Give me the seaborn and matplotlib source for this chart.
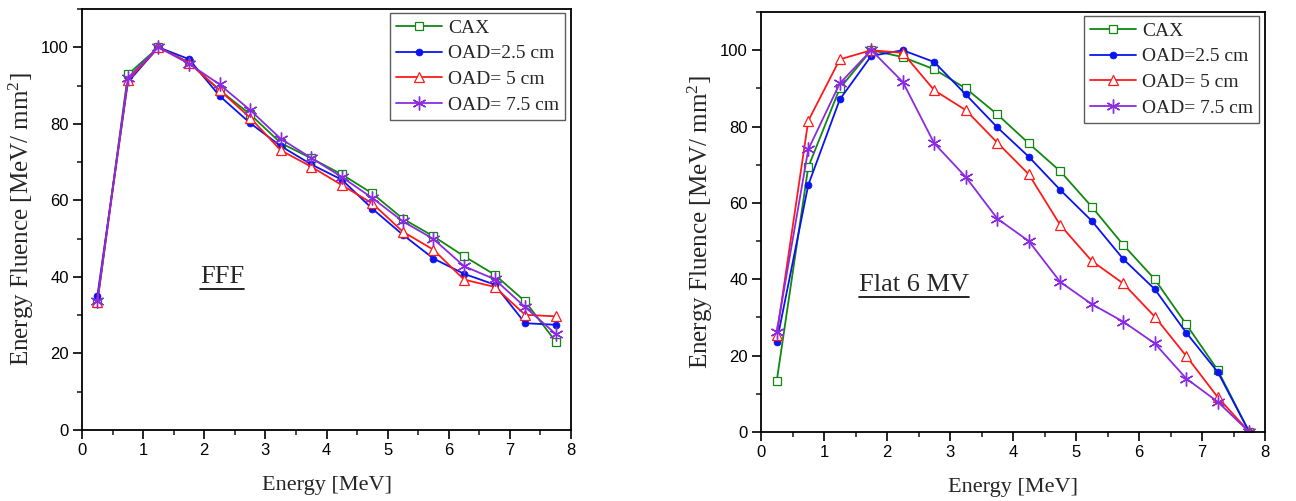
import numpy as np
import pandas as pd
import matplotlib
matplotlib.use("Agg")
import matplotlib.pyplot as plt
import seaborn as sns
from matplotlib.ticker import MultipleLocator
from matplotlib.lines import Line2D

# ---------------- data ----------------
energy = [0.25, 0.75, 1.25, 1.75, 2.25, 2.75, 3.25, 3.75,
          4.25, 4.75, 5.25, 5.75, 6.25, 6.75, 7.25, 7.75]

series_names = ["CAX", "OAD=2.5 cm", "OAD= 5 cm", "OAD= 7.5 cm"]

fff_cax = [33.2, 92.9, 100.0, 96.0, 88.8, 82.5, 75.0, 71.0, 66.8, 61.8, 55.2, 50.6, 45.4, 40.6, 33.6, 23.1]
fff_oad25 = [34.9, 90.9, 100.0, 96.9, 87.3, 80.2, 74.2, 69.4, 65.4, 57.8, 51.0, 44.8, 40.8, 38.0, 27.9, 27.5]
fff_oad5 = [33.5, 91.4, 100.0, 96.0, 88.8, 81.6, 73.1, 68.8, 64.0, 59.2, 51.8, 47.1, 39.3, 37.4, 30.1, 29.7]
fff_oad75 = [33.8, 92.0, 100.0, 95.7, 90.3, 83.6, 76.1, 71.1, 66.1, 60.6, 54.5, 49.9, 42.8, 39.4, 32.1, 25.1]

flat_cax = [13.4, 69.4, 90.0, 100.0, 98.2, 95.0, 90.0, 83.2, 75.6, 68.3, 59.0, 49.0, 40.0, 28.2, 16.2, 0.0]
flat_oad25 = [23.6, 64.7, 87.1, 98.5, 100.0, 96.9, 88.4, 79.8, 72.1, 63.4, 55.3, 45.3, 37.4, 26.0, 15.7, 0.0]
flat_oad5 = [25.5, 81.5, 97.6, 100.0, 99.3, 89.5, 84.3, 75.8, 67.5, 54.2, 44.8, 38.9, 30.2, 19.9, 9.1, 0.0]
flat_oad75 = [26.3, 74.0, 91.3, 100.0, 91.7, 75.6, 66.8, 55.9, 50.0, 39.3, 33.5, 28.9, 23.2, 14.0, 7.9, 0.0]

x_ticks = [0, 1, 2, 3, 4, 5, 6, 7, 8]
y_ticks = [0, 20, 40, 60, 80, 100]

panel_labels = ["FFF", "Flat 6 MV"]
x_label = "Energy [MeV]"
y_label = "Energy Fluence [MeV/ mm$^2$]"

# ---------------- style ----------------
sns.set_style("ticks")
plt.rcParams["font.family"] = ["Liberation Serif", "DejaVu Serif"]
plt.rcParams["mathtext.fontset"] = "custom"
plt.rcParams["mathtext.rm"] = "Liberation Serif"
plt.rcParams["mathtext.it"] = "Liberation Serif:italic"
plt.rcParams["mathtext.bf"] = "Liberation Serif:bold"

colors = ["#118811", "#0a14f0", "#ff1a1a", "#8a2be2"]
styles = [
    dict(marker="s", markersize=6, markerfacecolor="white", markeredgewidth=0.9),
    dict(marker="o", markersize=5, markeredgewidth=0.5),
    dict(marker="^", markersize=7, markerfacecolor="white", markeredgewidth=0.9),
    dict(marker=(6, 2, 0), markersize=10, markeredgewidth=1.0),
]

fig = plt.figure(figsize=(12.96, 5.01), dpi=100)
ax1 = fig.add_axes([0.0633, 0.1417, 0.4406 - 0.0633, 0.982 - 0.1417])
ax2 = fig.add_axes([0.5872, 0.1377, 0.9761 - 0.5872, 0.976 - 0.1377])

panels = [
    (ax1, [fff_cax, fff_oad25, fff_oad5, fff_oad75], panel_labels[0], (1.93, 40)),
    (ax2, [flat_cax, flat_oad25, flat_oad5, flat_oad75], panel_labels[1], (1.55, 38.5)),
]

tick_font = ["Liberation Sans", "DejaVu Sans"]
texts = []

for ax, data, label, pos in panels:
    for name, vals, col, st in zip(series_names, data, colors, styles):
        df = pd.DataFrame({"x": energy, "y": vals})
        sns.lineplot(data=df, x="x", y="y", ax=ax, color=col, linewidth=1.3,
                     markeredgecolor=col, label=name, **st)
    ax.set_xlim(0, 8)
    ax.set_ylim(0, 110)
    ax.set_xticks(x_ticks)
    ax.set_yticks(y_ticks)
    ax.xaxis.set_minor_locator(MultipleLocator(0.5))
    ax.yaxis.set_minor_locator(MultipleLocator(10))
    ax.tick_params(axis="both", which="major", direction="out", length=6.5, width=1.2,
                   labelsize=12, pad=3, colors="black")
    ax.tick_params(axis="both", which="minor", direction="out", length=3.5, width=1.2)
    for lab in ax.get_xticklabels() + ax.get_yticklabels():
        lab.set_family(tick_font)
    for sp in ax.spines.values():
        sp.set_visible(True)
        sp.set_linewidth(1.3)
        sp.set_color("black")
    ax.set_xlabel(x_label, fontsize=16, labelpad=13)
    ax.set_ylabel(y_label, fontsize=18, labelpad=4)
    t = ax.text(pos[0], pos[1], label, fontsize=19, ha="left", va="center")
    texts.append(t)
    leg = ax.legend(loc="upper right", bbox_to_anchor=(0.988, 0.99), fontsize=14,
                    frameon=True, fancybox=False, edgecolor="#333333",
                    handlelength=2.4, handletextpad=0.3, borderpad=0.3,
                    labelspacing=0.42, borderaxespad=0.0)
    leg.get_frame().set_linewidth(1.0)

# underline the panel labels
fig.canvas.draw()
renderer = fig.canvas.get_renderer()
for t in texts:
    bb = t.get_window_extent(renderer)
    (x0, y0), (x1, _) = fig.transFigure.inverted().transform([[bb.x0, bb.y0], [bb.x1, bb.y1]])
    fig.add_artist(Line2D([x0, x1], [y0 - 0.002, y0 - 0.002], color="black", lw=1.2,
                          transform=fig.transFigure))

fig.savefig("out.png", dpi=100)
